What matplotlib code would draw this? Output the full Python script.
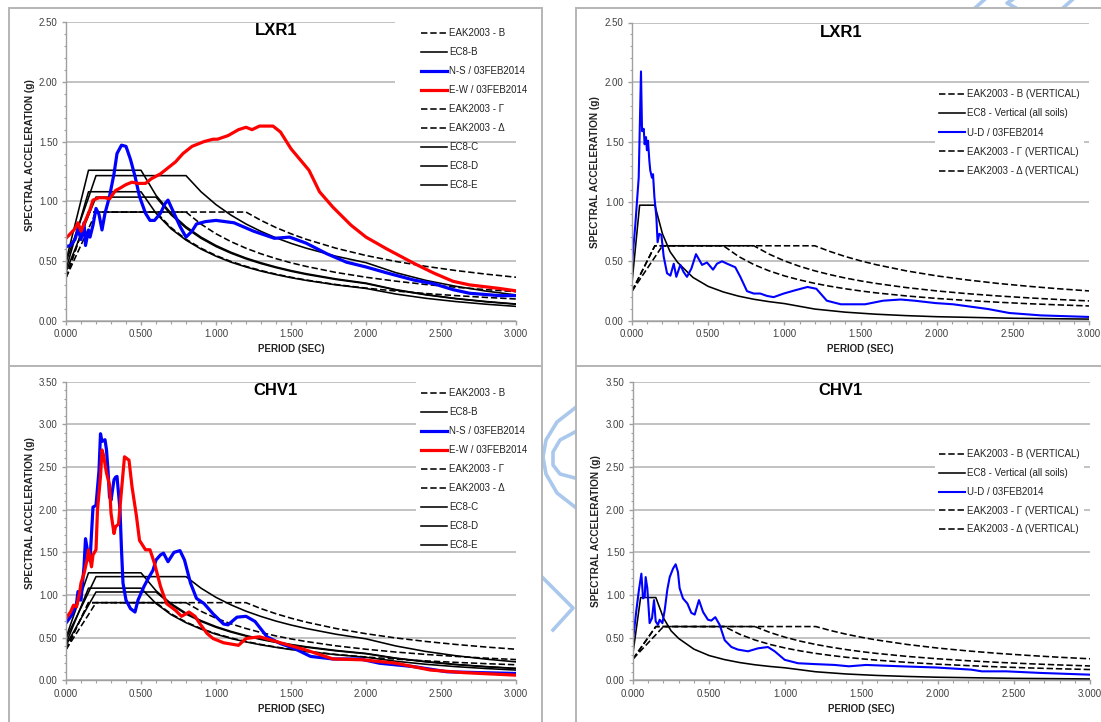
import matplotlib.pyplot as plt
from matplotlib.lines import Line2D
from matplotlib.patches import Rectangle
from matplotlib.ticker import MultipleLocator, FormatStrFormatter

W, H = 1101, 722

# ---- design spectra ----
T_DES = [0, 0.15, 0.2, 0.3, 0.4, 0.5, 0.6, 0.7, 0.8, 0.9, 1.0, 1.1, 1.2, 1.3,
         1.4, 1.5, 1.6, 1.8, 2.0, 2.2, 2.4, 2.6, 2.8, 3.0]

EAK_B = [0.36, 0.91, 0.91, 0.91, 0.91, 0.91, 0.91, 0.78, 0.6825, 0.607, 0.546, 0.496,
         0.455, 0.42, 0.39, 0.364, 0.341, 0.303, 0.273, 0.248, 0.2275, 0.21, 0.195, 0.182]
EAK_G = [0.36, 0.91, 0.91, 0.91, 0.91, 0.91, 0.91, 0.91, 0.91, 0.809, 0.728, 0.662,
         0.607, 0.56, 0.52, 0.485, 0.455, 0.404, 0.364, 0.331, 0.303, 0.28, 0.26, 0.243]
EAK_D = [0.36, 0.77, 0.91, 0.91, 0.91, 0.91, 0.91, 0.91, 0.91, 0.91, 0.91, 0.91,
         0.91, 0.84, 0.78, 0.728, 0.6825, 0.607, 0.546, 0.496, 0.455, 0.42, 0.39, 0.364]
EC8_B = [0.43, 1.08, 1.08, 1.08, 1.08, 1.08, 0.90, 0.77, 0.675, 0.60, 0.54, 0.49,
         0.45, 0.415, 0.386, 0.36, 0.338, 0.30, 0.27, 0.223, 0.1875, 0.16, 0.138, 0.12]
EC8_C = [0.41, 0.88, 1.035, 1.035, 1.035, 1.035, 1.035, 0.887, 0.776, 0.69, 0.621, 0.565,
         0.518, 0.478, 0.444, 0.414, 0.388, 0.345, 0.311, 0.257, 0.216, 0.184, 0.158, 0.138]
EC8_D = [0.49, 1.03, 1.215, 1.215, 1.215, 1.215, 1.215, 1.215, 1.215, 1.08, 0.972, 0.884,
         0.81, 0.748, 0.694, 0.648, 0.608, 0.54, 0.486, 0.402, 0.3375, 0.288, 0.248, 0.216]
EC8_E = [0.50, 1.26, 1.26, 1.26, 1.26, 1.26, 1.05, 0.90, 0.7875, 0.70, 0.63, 0.573,
         0.525, 0.485, 0.45, 0.42, 0.394, 0.35, 0.315, 0.26, 0.219, 0.186, 0.161, 0.14]

EAK_V_B = [0.25, 0.63, 0.63, 0.63, 0.63, 0.63, 0.63, 0.54, 0.4725, 0.42, 0.378, 0.344,
           0.315, 0.291, 0.27, 0.252, 0.236, 0.21, 0.189, 0.172, 0.1575, 0.145, 0.135, 0.126]
EAK_V_G = [0.25, 0.63, 0.63, 0.63, 0.63, 0.63, 0.63, 0.63, 0.63, 0.56, 0.504, 0.458,
           0.42, 0.388, 0.36, 0.336, 0.315, 0.28, 0.252, 0.229, 0.21, 0.194, 0.18, 0.168]
EAK_V_D = [0.25, 0.535, 0.63, 0.63, 0.63, 0.63, 0.63, 0.63, 0.63, 0.63, 0.63, 0.63,
           0.63, 0.582, 0.54, 0.504, 0.4725, 0.42, 0.378, 0.344, 0.315, 0.291, 0.27, 0.252]

T_EC8_V = [0, 0.05, 0.15, 0.2, 0.25, 0.3, 0.4, 0.5, 0.6, 0.7, 0.8, 0.9, 1.0, 1.2,
           1.4, 1.6, 1.8, 2.0, 2.5, 3.0]
EC8_V = [0.32, 0.97, 0.97, 0.73, 0.58, 0.49, 0.365, 0.29, 0.243, 0.208, 0.182, 0.162,
         0.146, 0.10, 0.074, 0.057, 0.045, 0.036, 0.023, 0.016]

# ---- recorded spectra 03FEB2014 ----
T_LXR1_NS = [0, 0.03, 0.06, 0.08, 0.10, 0.12, 0.13, 0.15, 0.16, 0.18, 0.20, 0.22, 0.24,
             0.26, 0.29, 0.32, 0.34, 0.37, 0.40, 0.43, 0.46, 0.49, 0.53, 0.56, 0.59, 0.63,
             0.66, 0.68, 0.72, 0.76, 0.80, 0.84, 0.87, 0.93, 1.00, 1.12, 1.25, 1.39, 1.49,
             1.60, 1.74, 1.87, 2.00, 2.14, 2.32, 2.45, 2.58, 2.69, 2.89, 3.0]
SA_LXR1_NS = [0.62, 0.63, 0.68, 0.77, 0.68, 0.82, 0.63, 0.76, 0.70, 0.80, 0.94, 0.89, 0.76,
              0.90, 1.04, 1.23, 1.40, 1.47, 1.46, 1.35, 1.21, 1.04, 0.90, 0.84, 0.84, 0.90,
              0.98, 1.01, 0.90, 0.79, 0.70, 0.75, 0.81, 0.83, 0.84, 0.82, 0.75, 0.69, 0.70,
              0.65, 0.56, 0.49, 0.45, 0.40, 0.34, 0.31, 0.26, 0.23, 0.21, 0.21]

T_LXR1_EW = [0, 0.03, 0.06, 0.08, 0.10, 0.13, 0.16, 0.18, 0.22, 0.26, 0.29, 0.33, 0.36,
             0.40, 0.44, 0.48, 0.53, 0.57, 0.63, 0.67, 0.73, 0.78, 0.84, 0.92, 0.98, 1.01,
             1.08, 1.15, 1.20, 1.24, 1.29, 1.38, 1.43, 1.50, 1.62, 1.69, 1.78, 1.90, 2.00,
             2.14, 2.32, 2.45, 2.58, 2.69, 2.89, 3.0]
SA_LXR1_EW = [0.69, 0.73, 0.77, 0.82, 0.75, 0.84, 0.93, 1.01, 1.03, 1.03, 1.02, 1.09, 1.11,
              1.14, 1.16, 1.15, 1.15, 1.19, 1.23, 1.27, 1.33, 1.40, 1.46, 1.50, 1.52, 1.52,
              1.55, 1.60, 1.62, 1.60, 1.63, 1.63, 1.58, 1.44, 1.26, 1.08, 0.95, 0.80, 0.70,
              0.60, 0.48, 0.40, 0.33, 0.30, 0.27, 0.25]

T_CHV1_NS = [0, 0.04, 0.07, 0.08, 0.10, 0.12, 0.13, 0.15, 0.16, 0.18, 0.20, 0.22, 0.23,
             0.24, 0.26, 0.27, 0.28, 0.29, 0.30, 0.32, 0.33, 0.34, 0.36, 0.37, 0.38, 0.40,
             0.43, 0.46, 0.48, 0.52, 0.55, 0.58, 0.60, 0.63, 0.65, 0.68, 0.72, 0.76, 0.79,
             0.83, 0.87, 0.92, 0.98, 1.05, 1.08, 1.14, 1.20, 1.26, 1.34, 1.43, 1.52, 1.63,
             1.78, 1.96, 2.09, 2.32, 2.54, 2.76, 3.0]
SA_CHV1_NS = [0.67, 0.77, 0.90, 1.04, 0.94, 1.33, 1.66, 1.45, 1.40, 2.03, 2.05, 2.46, 2.89,
              2.80, 2.82, 2.70, 2.46, 2.15, 2.11, 2.35, 2.38, 2.39, 2.00, 1.53, 1.14, 0.94,
              0.84, 0.80, 0.94, 1.10, 1.20, 1.29, 1.41, 1.47, 1.49, 1.39, 1.50, 1.52, 1.41,
              1.14, 0.96, 0.90, 0.78, 0.66, 0.65, 0.74, 0.75, 0.69, 0.51, 0.43, 0.375, 0.28,
              0.25, 0.25, 0.20, 0.16, 0.10, 0.09, 0.08]

T_CHV1_EW = [0, 0.03, 0.05, 0.07, 0.09, 0.10, 0.12, 0.14, 0.15, 0.17, 0.18, 0.20, 0.21,
             0.23, 0.24, 0.25, 0.27, 0.29, 0.30, 0.32, 0.33, 0.35, 0.37, 0.39, 0.42, 0.44,
             0.47, 0.49, 0.53, 0.56, 0.59, 0.63, 0.67, 0.73, 0.77, 0.82, 0.86, 0.89, 0.94,
             0.98, 1.05, 1.15, 1.20, 1.29, 1.45, 1.60, 1.78, 1.98, 2.20, 2.43, 2.65, 3.0]
SA_CHV1_EW = [0.73, 0.80, 0.88, 0.86, 1.02, 1.14, 1.25, 1.41, 1.53, 1.33, 1.47, 1.53, 2.00,
              2.39, 2.70, 2.64, 2.43, 2.29, 1.96, 1.72, 1.80, 1.83, 2.23, 2.62, 2.58, 2.27,
              1.92, 1.64, 1.53, 1.53, 1.37, 1.10, 0.90, 0.82, 0.75, 0.80, 0.75, 0.67, 0.55,
              0.49, 0.44, 0.41, 0.49, 0.51, 0.43, 0.355, 0.25, 0.24, 0.20, 0.12, 0.09, 0.06]

T_LXR1_UD = [0, 0.022, 0.044, 0.059, 0.066, 0.077, 0.083, 0.092, 0.098, 0.105, 0.114, 0.12,
             0.131, 0.138, 0.147, 0.16, 0.168, 0.179, 0.193, 0.208, 0.23, 0.252, 0.274,
             0.291, 0.317, 0.339, 0.361, 0.39, 0.42, 0.46, 0.492, 0.532, 0.558, 0.591,
             0.624, 0.678, 0.711, 0.755, 0.799, 0.842, 0.886, 0.93, 0.996, 1.07, 1.152,
             1.21, 1.279, 1.371, 1.53, 1.648, 1.763, 1.855, 1.993, 2.108, 2.339, 2.477,
             2.684, 3.0]
SA_LXR1_UD = [0.48, 0.81, 1.20, 2.09, 1.59, 1.61, 1.48, 1.54, 1.43, 1.51, 1.34, 1.26, 1.20,
              1.23, 1.04, 0.87, 0.66, 0.73, 0.72, 0.54, 0.40, 0.38, 0.48, 0.37, 0.47, 0.41,
              0.37, 0.44, 0.56, 0.47, 0.49, 0.43, 0.48, 0.50, 0.48, 0.45, 0.37, 0.25, 0.23,
              0.23, 0.21, 0.20, 0.23, 0.257, 0.285, 0.27, 0.17, 0.14, 0.14, 0.17, 0.18, 0.17,
              0.15, 0.14, 0.10, 0.067, 0.047, 0.034]

T_CHV1_UD = [0, 0.022, 0.039, 0.055, 0.066, 0.077, 0.083, 0.094, 0.109, 0.125, 0.138,
             0.149, 0.164, 0.175, 0.193, 0.208, 0.225, 0.241, 0.263, 0.28, 0.295, 0.306,
             0.328, 0.357, 0.383, 0.405, 0.433, 0.46, 0.492, 0.514, 0.54, 0.569, 0.602,
             0.646, 0.689, 0.755, 0.821, 0.886, 0.93, 0.996, 1.083, 1.193, 1.324, 1.417,
             1.53, 1.76, 1.99, 2.22, 2.29, 2.45, 2.68, 3.0]
SA_CHV1_UD = [0.47, 0.82, 1.06, 1.25, 0.96, 0.98, 1.21, 1.08, 0.67, 0.73, 0.94, 0.69, 0.65,
              0.71, 0.67, 0.82, 1.06, 1.21, 1.31, 1.36, 1.27, 1.08, 0.96, 0.90, 0.79, 0.77,
              0.94, 0.80, 0.71, 0.70, 0.74, 0.65, 0.47, 0.39, 0.36, 0.34, 0.375, 0.39, 0.34,
              0.24, 0.20, 0.19, 0.18, 0.164, 0.18, 0.164, 0.15, 0.125, 0.105, 0.105, 0.086,
              0.066]

plt.rcParams['font.family'] = ['Liberation Sans', 'DejaVu Sans']

BLACK = 'black'
BLUE = '#0000ff'
RED = '#ff0000'
GRAY = '#b5b5b5'
DASH = (4, 1.8)
LW = 1.15


def px_rect(left, top, w, h):
    return [left / W, 1 - (top + h) / H, w / W, h / H]


fig = plt.figure(figsize=(W / 100, H / 100), dpi=100)

# watermark strokes in the gaps (light blue)
wm = '#a9c8ec'
for xs, ys in [([575, 557, 546, 543, 546, 557, 575], [408, 422, 440, 457, 474, 493, 507]),
               ([575, 560, 553, 553, 560, 575], [432, 440, 452, 465, 474, 478]),
               ([543, 573, 553], [578, 608, 630]),
               ([975, 984], [8, 0]), ([1016, 1007, 1012], [8, 3, 0]), ([1063, 1072], [8, 0])]:
    fig.add_artist(Line2D([x / W for x in xs], [1 - y / H for y in ys], color=wm,
                          lw=2.6, zorder=0.5))

# panel frames
for left, top, w, h in [(9, 8, 533, 358), (576, 8, 540, 358), (9, 366, 533, 370), (576, 366, 540, 370)]:
    fig.add_artist(Rectangle((left / W, 1 - (top + h) / H), w / W, h / H, transform=fig.transFigure,
                             facecolor='white', edgecolor=GRAY, lw=1.4, zorder=1))


def style_axes(ax, ymax, title, tx, ty, ylab_y):
    ax.set_zorder(2)
    ax.set_xlim(0, 3.0)
    ax.set_ylim(0, ymax)
    ax.xaxis.set_major_locator(MultipleLocator(0.5))
    ax.xaxis.set_minor_locator(MultipleLocator(0.1))
    ax.yaxis.set_major_locator(MultipleLocator(0.5))
    ax.yaxis.set_minor_locator(MultipleLocator(0.1))
    ax.xaxis.set_major_formatter(FormatStrFormatter('%.3f'))
    ax.yaxis.set_major_formatter(FormatStrFormatter('%.2f'))
    ax.tick_params(which='major', length=3, width=1, color='#a0a0a0', labelsize=7,
                   labelcolor='#404040', pad=3)
    ax.tick_params(which='minor', length=1.8, width=0.8, color='#a0a0a0')
    for s in ['top', 'right']:
        ax.spines[s].set_visible(False)
    for s in ['left', 'bottom']:
        ax.spines[s].set_color('#a0a0a0')
        ax.spines[s].set_linewidth(1.0)
    ax.yaxis.grid(True, color='#bdbdbd', lw=1.3)
    ax.set_axisbelow(True)
    ax.text(tx, ty, title, transform=ax.transAxes, ha='center', va='center',
            fontsize=12, fontweight='bold')
    ax.set_xlabel('PERIOD (SEC)', fontsize=7, fontweight='bold', color='#222222')
    ax.set_ylabel('SPECTRAL ACCELERATION (g)', fontsize=7.3, fontweight='bold', color='#222222')
    ax.xaxis.set_label_coords(0.5, -0.078)
    ax.yaxis.set_label_coords(-0.069, ylab_y)


def horizontal(ax, t_ns, sa_ns, t_ew, sa_ew):
    hs = {}
    for key, y in [('EAK2003 - B', EAK_B), ('EAK2003 - Γ', EAK_G), ('EAK2003 - Δ', EAK_D)]:
        hs[key], = ax.plot(T_DES, y, color=BLACK, lw=LW, ls=(0, DASH))
    for key, y in [('EC8-B', EC8_B), ('EC8-C', EC8_C), ('EC8-D', EC8_D), ('EC8-E', EC8_E)]:
        hs[key], = ax.plot(T_DES, y, color=BLACK, lw=LW, solid_joinstyle='round')
    hs['N-S / 03FEB2014'], = ax.plot(t_ns, sa_ns, color=BLUE, lw=2.3, solid_joinstyle='round')
    hs['E-W / 03FEB2014'], = ax.plot(t_ew, sa_ew, color=RED, lw=2.3, solid_joinstyle='round')
    order = ['EAK2003 - B', 'EC8-B', 'N-S / 03FEB2014', 'E-W / 03FEB2014', 'EAK2003 - Γ',
             'EAK2003 - Δ', 'EC8-C', 'EC8-D', 'EC8-E']
    return [hs[k] for k in order], order


def vertical(ax, t_ud, sa_ud):
    hs = {}
    for key, y in [('EAK2003 - B (VERTICAL)', EAK_V_B), ('EAK2003 - Γ (VERTICAL)', EAK_V_G),
                   ('EAK2003 - Δ (VERTICAL)', EAK_V_D)]:
        hs[key], = ax.plot(T_DES, y, color=BLACK, lw=LW, ls=(0, DASH))
    hs['EC8 - Vertical (all soils)'], = ax.plot(T_EC8_V, EC8_V, color=BLACK, lw=LW,
                                                solid_joinstyle='round')
    hs['U-D / 03FEB2014'], = ax.plot(t_ud, sa_ud, color=BLUE, lw=1.5, solid_joinstyle='round')
    order = ['EAK2003 - B (VERTICAL)', 'EC8 - Vertical (all soils)', 'U-D / 03FEB2014',
             'EAK2003 - Γ (VERTICAL)', 'EAK2003 - Δ (VERTICAL)']
    return [hs[k] for k in order], order


legend_kw = dict(loc='upper left', fontsize=7, handlelength=2.7, handletextpad=0.2,
                 borderaxespad=0, labelcolor='#222222')

# top left: LXR1 horizontal
ax1 = fig.add_axes(px_rect(66, 22.2, 450, 298.5))
style_axes(ax1, 2.5, 'LXR1', 0.467, 0.972, 0.555)
ax1.add_patch(Rectangle((0.731, 0.706), 0.28, 0.31, transform=ax1.transAxes, facecolor='white',
                        edgecolor='none', zorder=1, clip_on=False))
h, l = horizontal(ax1, T_LXR1_NS, SA_LXR1_NS, T_LXR1_EW, SA_LXR1_EW)
ax1.legend(h, l, bbox_to_anchor=(0.789, 0.979), frameon=False, borderpad=0,
           labelspacing=0.92, **legend_kw)

# top right: LXR1 vertical
ax2 = fig.add_axes(px_rect(632, 22.5, 457, 298.5))
style_axes(ax2, 2.5, 'LXR1', 0.457, 0.966, 0.5)
h, l = vertical(ax2, T_LXR1_UD, SA_LXR1_UD)
ax2.legend(h, l, bbox_to_anchor=(0.663, 0.79), frameon=True, fancybox=False, framealpha=1,
           facecolor='white', edgecolor='none', borderpad=0.4, labelspacing=0.95, **legend_kw)

# bottom left: CHV1 horizontal
ax3 = fig.add_axes(px_rect(66, 381.7, 450, 298.6))
style_axes(ax3, 3.5, 'CHV1', 0.465, 0.97, 0.56)
ax3.add_patch(Rectangle((0.778, 0.443), 0.23, 0.567, transform=ax3.transAxes, facecolor='white',
                        edgecolor='none', zorder=1, clip_on=False))
h, l = horizontal(ax3, T_CHV1_NS, SA_CHV1_NS, T_CHV1_EW, SA_CHV1_EW)
ax3.legend(h, l, bbox_to_anchor=(0.789, 0.979), frameon=False, borderpad=0,
           labelspacing=0.93, **legend_kw)

# bottom right: CHV1 vertical
ax4 = fig.add_axes(px_rect(633, 381.7, 457, 298.6))
style_axes(ax4, 3.5, 'CHV1', 0.455, 0.97, 0.5)
h, l = vertical(ax4, T_CHV1_UD, SA_CHV1_UD)
ax4.legend(h, l, bbox_to_anchor=(0.661, 0.786), frameon=True, fancybox=False, framealpha=1,
           facecolor='white', edgecolor='none', borderpad=0.4, labelspacing=0.9, **legend_kw)

fig.savefig('out.png', dpi=100)
